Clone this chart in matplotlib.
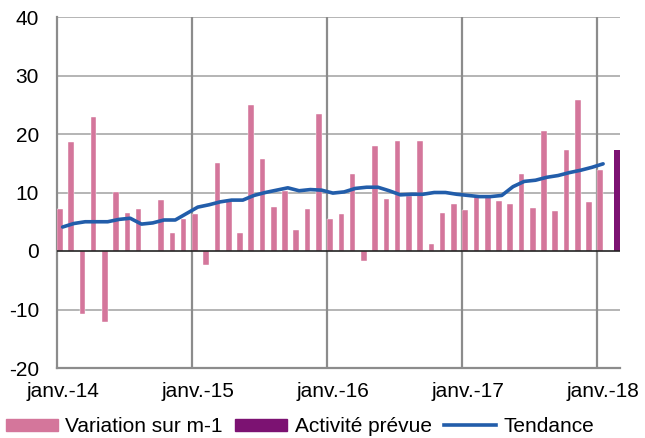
import matplotlib
matplotlib.use("Agg")
import matplotlib.pyplot as plt
from matplotlib.patches import Patch
from matplotlib.lines import Line2D
import numpy as np

plt.rcParams['font.family'] = ['Liberation Sans', 'DejaVu Sans']

# Monthly data Jan 2014 .. Jan 2018 (49 months)
variation = [7.2, 18.7, -10.7, 22.9, -12.2, 10.1, 6.55, 7.1, 0.0, 8.7, 3.0, 5.5,
             6.4, -2.45, 15.0, 8.5, 3.0, 24.9, 15.8, 7.6, 10.2, 3.6, 7.2, 23.4,
             5.5, 6.3, 13.2, -1.7, 17.9, 8.9, 18.8, 9.4, 18.8, 1.25, 6.5, 8.0,
             6.95, 9.2, 9.3, 8.5, 8.1, 13.2, 7.4, 20.5, 6.8, 17.2, 25.8, 8.3,
             13.9]
tendance = [4.1, 4.7, 5.0, 5.0, 5.0, 5.4, 5.6, 4.6, 4.8, 5.3, 5.3, 6.4,
            7.5, 7.9, 8.4, 8.7, 8.7, 9.5, 10.0, 10.4, 10.8, 10.3, 10.5, 10.4,
            9.9, 10.1, 10.7, 10.9, 10.9, 10.3, 9.6, 9.7, 9.7, 10.0, 10.0, 9.7,
            9.5, 9.3, 9.3, 9.5, 11.0, 11.9, 12.1, 12.6, 12.9, 13.4, 13.8, 14.3,
            14.9]
activite_prevue = [17.3]  # Feb 2018
tick_labels = ['janv.-14', 'janv.-15', 'janv.-16', 'janv.-17', 'janv.-18']
y_ticks = [-20, -10, 0, 10, 20, 30, 40]

pink = '#D4769B'
purple = '#7C1272'
blue = '#225DAA'

fig = plt.figure(figsize=(6.45, 4.38), dpi=100)
ax = fig.add_axes([57/645, 70/438, 563/645, 351/438])

n = len(variation)
x = np.arange(n)
ax.bar(x - 0.25, variation, width=0.5, color=pink, edgecolor='white', linewidth=0.3, zorder=3)
xa = np.arange(n, n + len(activite_prevue))
ax.bar(xa + 0.25, activite_prevue, width=0.5, color=purple, zorder=3)
ax.plot(x, tendance, color=blue, lw=2.6, zorder=4, solid_capstyle='round')

ax.set_xlim(-0.5, n + len(activite_prevue) - 0.5)
ax.set_ylim(-20, 40)
ax.set_yticks(y_ticks)
ax.set_yticklabels([str(v) for v in y_ticks])
for v in y_ticks:
    if v == 0:
        ax.axhline(v, color='#222222', lw=1.2, zorder=5)
    elif v != -20:
        ax.axhline(v, color='#A8A8A8', lw=1.2, zorder=1)
jan_pos = list(range(0, n, 12))
for p in jan_pos[1:]:
    ax.axvline(p - 0.5, color='#8C8C8C', lw=1.6, zorder=1)
ax.set_xticks(jan_pos)
ax.set_xticklabels(tick_labels)

for s in ['top', 'right']:
    ax.spines[s].set_visible(False)
ax.spines['left'].set_color('#8C8C8C')
ax.spines['left'].set_linewidth(1.6)
ax.spines['bottom'].set_color('#8C8C8C')
ax.spines['bottom'].set_linewidth(1.6)
ax.tick_params(axis='both', length=0, labelsize=15)
ax.tick_params(axis='y', pad=13)
ax.tick_params(axis='x', pad=10)

handles = [Patch(color=pink), Patch(color=purple), Line2D([], [], color=blue, lw=2.6)]
labels = ['Variation sur m-1', 'Activité prévue', 'Tendance']
fig.legend(handles, labels, loc='lower left', bbox_to_anchor=(6/645, 2/438), ncol=3,
           frameon=False, fontsize=15, handlelength=2.5, handleheight=0.5,
           handletextpad=0.35, columnspacing=0.6, borderpad=0, borderaxespad=0)

fig.savefig('out.png', dpi=100)
